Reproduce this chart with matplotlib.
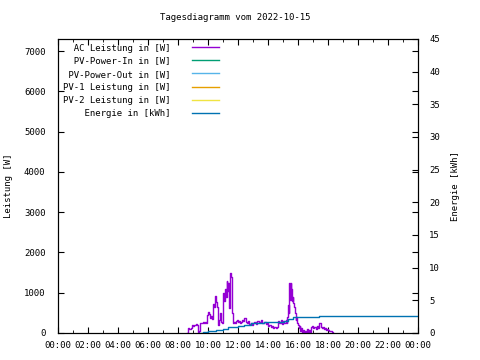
import matplotlib
matplotlib.use("Agg")
import matplotlib.pyplot as plt
import numpy as np

plt.rcParams['font.family'] = ['DejaVu Sans Mono']
plt.rcParams['font.size'] = 6.5

# AC Leistung: minutes since midnight -> W
ac_min = [515, 518, 521, 525, 530, 534, 538, 542, 546, 550, 555, 561, 565, 568, 573, 578, 583, 588, 592,
          595, 599, 603, 606, 610, 614, 618, 621, 624, 628, 631, 635, 638, 641, 644, 648, 651, 655, 658,
          661, 664, 667, 670, 674, 677, 680, 684, 687, 689, 692, 695, 698, 700, 704, 708, 712, 716, 720,
          724, 728, 732, 736, 740, 745, 750, 755, 760, 765, 770, 775, 780, 785, 790, 795, 800, 805, 810,
          815, 820, 825, 830, 835, 840, 845, 850, 855, 860, 865, 870, 875, 880, 885, 890, 895, 900, 905,
          910, 915, 917, 920, 922, 924, 926, 928, 930, 932, 935, 938, 941, 944, 947, 950, 953, 956, 960,
          963, 966, 969, 972, 975, 979, 983, 987, 991, 995, 999, 1003, 1007, 1011, 1015, 1019, 1023, 1027,
          1031, 1035, 1039, 1043, 1047, 1050, 1054, 1058, 1062, 1066, 1070, 1074, 1078, 1082, 1086, 1090,
          1094, 1098, 1100]
ac_w = [0, 60, 120, 100, 130, 200, 180, 210, 190, 220, 200, 30, 60, 260, 240, 270, 250, 280, 260,
        450, 520, 480, 380, 420, 350, 400, 730, 650, 930, 780, 650, 500, 200, 330, 500, 280, 250, 600,
        1000, 800, 1100, 900, 1300, 1050, 1240, 620, 900, 1480, 1400, 500, 350, 250, 280, 260, 300, 320, 270,
        310, 260, 280, 330, 300, 370, 280, 260, 300, 220, 260, 200, 240, 280, 230, 310, 300, 280, 320,
        260, 240, 280, 220, 260, 180, 200, 150, 170, 120, 150, 120, 160, 300, 260, 330, 230, 300, 260,
        320, 250, 400, 700, 500, 1230, 900, 820, 1250, 1100, 800, 900, 750, 650, 500, 320, 400, 250, 200,
        120, 170, 60, 120, 30, 80, 20, 40, 30, 100, 30, 80, 30, 150, 170, 120, 160, 140,
        100, 170, 130, 250, 240, 150, 120, 140, 100, 130, 70, 110, 80, 60, 40, 50,
        20, 10, 0]

# Energie: minutes since midnight -> kWh
en_min = [564, 580, 600, 630, 660, 680, 720, 745, 770, 800, 825, 865, 905, 920, 940, 1045, 1440]
en_kwh = [0, 0.1, 0.3, 0.45, 0.65, 0.97, 1.07, 1.27, 1.48, 1.58, 1.65, 1.75, 1.9, 2.2, 2.4, 2.6, 2.6]

labels = ["AC Leistung in [W]", "PV-Power-In in [W]", "PV-Power-Out in [W]",
          "PV-1 Leistung in [W]", "PV-2 Leistung in [W]", "Energie in [kWh]"]
colors = ["#9400d3", "#009e73", "#56b4e9", "#e69f00", "#f0e442", "#0072b2"]

fig = plt.figure(figsize=(4.8, 3.6), dpi=100)
ax = fig.add_axes([58/480, 1-333/360, 360/480, 294/360])
ax2 = ax.twinx()

w = max(len(s) for s in labels)
lab = [s.rjust(w) for s in labels]

h = []
h += ax.plot(np.array(ac_min)/60, ac_w, drawstyle='steps-post', color=colors[0], lw=1.0, label=lab[0])
for i in range(1, 5):
    h += ax.plot([], [], color=colors[i], lw=1.0, label=lab[i])
h += ax2.plot(np.array(en_min)/60, en_kwh, drawstyle='steps-post', color=colors[5], lw=1.0, label=lab[5])

ax.set_xlim(0, 24)
ax.set_ylim(0, 7300)
ax2.set_ylim(0, 45)

ax.set_xticks(np.arange(0, 25, 2))
ax.set_xticks(np.arange(0, 25, 1), minor=True)
ax.set_xticklabels(["%02d:00" % (t % 24) for t in range(0, 25, 2)])
ax.set_yticks(np.arange(0, 7001, 1000))
ax2.set_yticks(np.arange(0, 46, 5))

ax.tick_params(axis='x', which='both', direction='in', top=True, pad=6)
ax.tick_params(axis='x', which='major', length=4)
ax.tick_params(axis='x', which='minor', length=2.5)
ax.tick_params(axis='y', direction='in', right=True, length=4, pad=9)
ax2.tick_params(axis='y', direction='in', length=4, pad=8)

for a in (ax, ax2):
    for sp in a.spines.values():
        sp.set_linewidth(0.8)

ax.set_ylabel("Leistung [W]", labelpad=8)
ax2.set_ylabel("Energie [kWh]", labelpad=8)
fig.text(0.5 - 0.01, 1 - 18/360, "Tagesdiagramm vom 2022-10-15", ha='center', va='center')

ax2.legend(h, lab, loc='upper left', bbox_to_anchor=(0.0, 1.0), frameon=False, markerfirst=False,
           handlelength=3.0, handletextpad=2.4, labelspacing=0.45, borderaxespad=0.3, borderpad=0.2)

fig.savefig("out.png", dpi=100)
